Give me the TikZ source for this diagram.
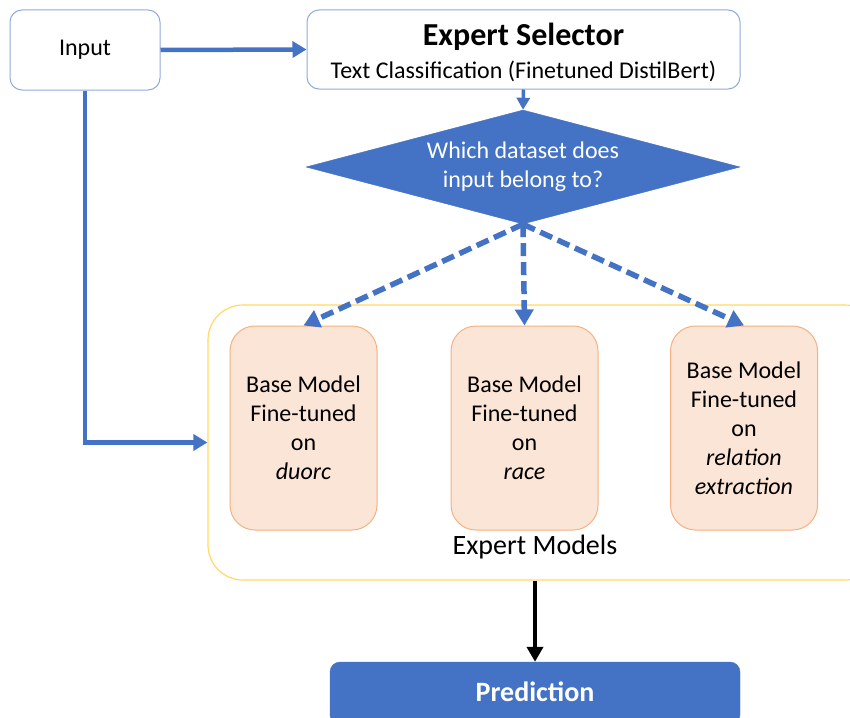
\documentclass[tikz,border=0pt]{standalone}
\usepackage{fontspec}
\setmainfont{Carlito}
\usetikzlibrary{arrows.meta,shapes.geometric}
\definecolor{mblue}{HTML}{4472C4}
\definecolor{lblue}{HTML}{8FAADC}
\definecolor{ofill}{HTML}{FBE5D6}
\definecolor{oline}{HTML}{F4B183}
\definecolor{yline}{HTML}{FFD966}
\tikzset{
  wbox/.style={draw=lblue, line width=1pt, fill=white, rounded corners=12pt, inner sep=0pt, align=center},
  expbox/.style={draw=oline, line width=1pt, fill=ofill, rounded corners=25pt, minimum width=147pt, minimum height=204pt, inner sep=0pt, align=center, font=\fontsize{24}{29}\selectfont},
  barrow/.style={draw=mblue, line width=4.5pt, -{Triangle[length=14pt,width=16pt]}},
  sarrow/.style={draw=mblue, line width=3.5pt, -{Triangle[length=12pt,width=13pt]}},
  darrow/.style={draw=mblue, line width=5.5pt, dash pattern=on 13pt off 6pt, -{Triangle[length=16pt,width=18pt]}},
}
\begin{document}
\begin{tikzpicture}[x=1pt,y=-1pt]
\clip (0,0) rectangle (850,717);
\useasboundingbox (0,0) rectangle (850,717);
\fill[white] (0,0) rectangle (850,717);

\node[wbox, minimum width=150pt, minimum height=80pt, font=\fontsize{24}{29}\selectfont] (inp) at (85,50) {Input};
\node[wbox, minimum width=433pt, minimum height=79pt] (sel) at (523.5,49.5) {};
\node[font=\fontsize{32}{36}\bfseries\selectfont] (selt) at (523.5,37) {Expert Selector};
\node[font=\fontsize{24}{29}\selectfont] (sels) at (523.5,71) {Text Classification (Finetuned DistilBert)};

\node[diamond, fill=mblue, draw=mblue, inner sep=0pt, minimum width=434pt, minimum height=114pt, aspect=3.8,
      text=white, align=center, font=\fontsize{24}{29}\selectfont] (dia) at (523,167) {Which dataset does\\input belong to?};

\node[draw=yline, line width=1.2pt, rounded corners=35pt, minimum width=672pt, minimum height=275pt, inner sep=0pt] (cont) at (544,442.5) {};
\node[font=\fontsize{28}{32}\selectfont] (contl) at (535,547) {Expert Models};

\node[expbox] (b1) at (303.5,428) {Base Model\\Fine-tuned\\on\\\textit{duorc}};
\node[expbox] (b2) at (524.5,428) {Base Model\\Fine-tuned\\on\\\textit{race}};
\node[expbox] (b3) at (744,428) {Base Model\\Fine-tuned\\on\\\textit{relation}\\\textit{extraction}};

\node[fill=mblue, draw=mblue, rounded corners=10pt, minimum width=410pt, minimum height=63pt, inner sep=0pt,
      text=white, font=\fontsize{28}{32}\bfseries\selectfont] (pred) at (535,693.5) {};
\node[text=white, font=\fontsize{28}{32}\bfseries\selectfont] (predt) at (535,692) {Prediction};

\draw[barrow] (inp.east) -- (sel.west);
\draw[sarrow] (sel.south) -- (dia.north);
\draw[barrow] (inp.south) |- (cont.west);
\draw[darrow] (dia.south) -- (b1.north);
\draw[darrow] (dia.south) -- (b2.north);
\draw[darrow] (dia.south) -- (b3.north);
\draw[line width=4.5pt, black, -{Triangle[length=15pt,width=16pt]}] (cont.south -| pred.north) -- (pred.north);
\end{tikzpicture}
\end{document}
